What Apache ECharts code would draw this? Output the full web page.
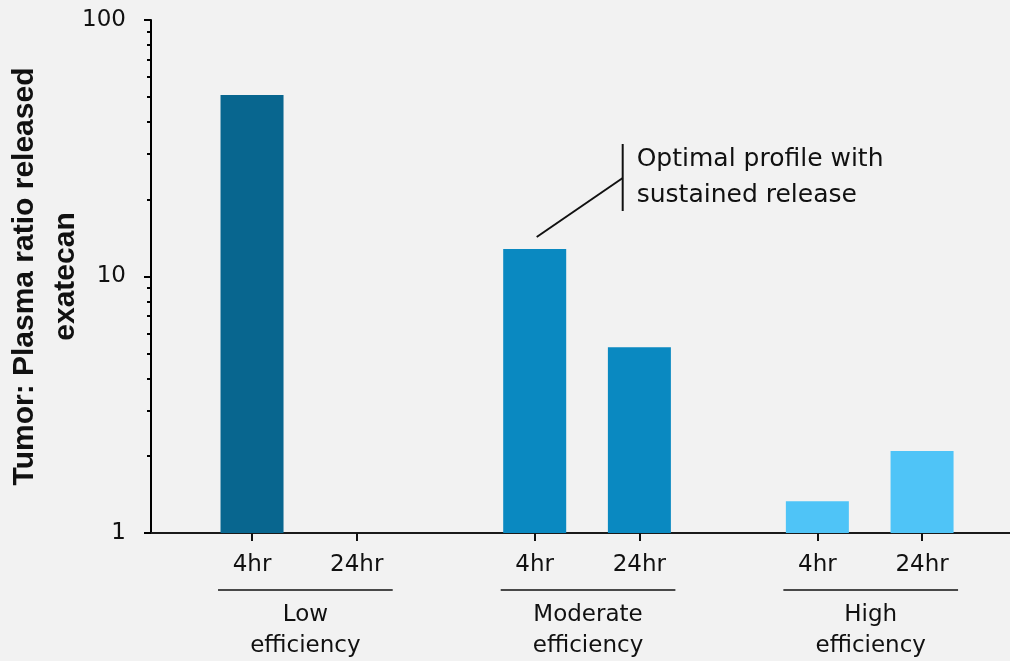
<!DOCTYPE html>
<html>
<head>
<meta charset="utf-8">
<script src="https://cdn.jsdelivr.net/npm/echarts@6/dist/echarts.min.js"></script>
<style>
  html, body { margin: 0; padding: 0; background: #F2F2F2; }
  #chart { width: 1010px; height: 661px; }
</style>
</head>
<body>
<div id="chart"></div>
<script>
// Tumor:plasma ratio of released exatecan by linker release efficiency
const groups = ['Low\nefficiency', 'Moderate\nefficiency', 'High\nefficiency'];
const timepoints = ['4hr', '24hr'];
const ratio4hr = [51, 12.8, 1.33];
const ratio24hr = [null, 5.3, 2.09];
const groupColors = ['#08668F', '#0A89C1', '#4FC4F7'];
const yMajorTicks = [1, 10, 100];
const yMinorTicks = [2, 3, 4, 5, 6, 7, 8, 9, 20, 30, 40, 50, 60, 70, 80, 90];
const yTitle = 'Tumor: Plasma ratio released\nexatecan';
const annotationText = 'Optimal profile with\nsustained release';
const annotatedGroup = 1;   // Moderate efficiency, 4hr bar

// Horizontal layout: slots inside a group are 1 unit apart, groups GROUP_STEP apart
const GROUP_STEP = 2.7;
const slotX = (g, s) => g * GROUP_STEP + s;

const FONT = '"DejaVu Sans", "Noto Sans", sans-serif';
const INK = '#111111';

const slots = [];
groups.forEach((name, g) => {
  timepoints.forEach((tp, s) => {
    const v = s === 0 ? ratio4hr[g] : ratio24hr[g];
    slots.push({ x: slotX(g, s), label: tp, value: v, color: groupColors[g] });
  });
});
const slotPositions = slots.map(d => d.x);
const labelFor = v => {
  let best = slots[0];
  slots.forEach(d => { if (Math.abs(d.x - v) < Math.abs(best.x - v)) best = d; });
  return best.label;
};

const barData = slots
  .filter(d => d.value != null)
  .map(d => ({ value: [d.x, d.value], itemStyle: { color: d.color } }));

const chart = echarts.init(document.getElementById('chart'), null, { renderer: 'canvas' });

const option = {
  backgroundColor: '#F2F2F2',
  animation: false,
  grid: {
    left: 151, right: 0, top: 20, bottom: 128,
    containLabel: false, outerBoundsMode: 'none'
  },
  xAxis: {
    type: 'value',
    min: -0.965,
    max: 7.24,
    splitLine: { show: false },
    axisLine: { show: true, onZero: false, lineStyle: { color: '#1a1a1a', width: 2 } },
    axisTick: {
      show: true, customValues: slotPositions, length: 8, inside: false,
      lineStyle: { color: '#111', width: 2 }
    },
    axisLabel: {
      show: true, customValues: slotPositions, margin: 21,
      formatter: v => labelFor(v),
      color: INK, fontFamily: FONT, fontSize: 23
    }
  },
  yAxis: [
    {
      type: 'log', logBase: 10, min: 1, max: 100,
      position: 'left',
      splitLine: { show: false },
      axisLine: { show: true, onZero: false, lineStyle: { color: '#000', width: 2 } },
      axisTick: { show: true, customValues: yMajorTicks, length: 7, lineStyle: { color: '#000', width: 2 } },
      axisLabel: {
        show: true, customValues: yMajorTicks, margin: 25,
        color: INK, fontFamily: FONT, fontSize: 23
      },
      name: yTitle,
      nameLocation: 'middle',
      nameRotate: 90,
      nameGap: 65,
      nameMoveOverlap: false,
      nameTextStyle: {
        color: INK, fontFamily: '"Liberation Sans", Arial, sans-serif',
        fontWeight: 'bold', fontSize: 30, lineHeight: 41, align: 'center'
      }
    },
    {
      type: 'log', logBase: 10, min: 1, max: 100,
      position: 'left',
      splitLine: { show: false },
      axisLine: { show: false, onZero: false },
      axisTick: { show: true, customValues: yMinorTicks, length: 4, lineStyle: { color: '#000', width: 2 } },
      axisLabel: { show: false }
    }
  ],
  series: [{
    type: 'bar',
    yAxisIndex: 0,
    barWidth: 63,
    data: barData
  }]
};

chart.setOption(option);

// Group captions under the time-point labels, plus the call-out on the annotated bar
const graphics = [];
const baseY = chart.convertToPixel({ yAxisIndex: 0 }, 1);
groups.forEach((name, g) => {
  const x0 = chart.convertToPixel({ xAxisIndex: 0 }, slotX(g, 0));
  const x1 = chart.convertToPixel({ xAxisIndex: 0 }, slotX(g, 1));
  const lineY = baseY + 57;
  graphics.push({
    type: 'line',
    shape: { x1: x0 - 34, y1: lineY, x2: x1 + 36, y2: lineY },
    style: { stroke: '#111', lineWidth: 1.3 }
  });
  graphics.push({
    type: 'text',
    x: (x0 - 34 + x1 + 36) / 2,
    y: lineY + 10,
    style: {
      text: name, fill: INK, font: '23px ' + FONT,
      align: 'center', verticalAlign: 'top', lineHeight: 31
    }
  });
});

const barTop = chart.convertToPixel({ seriesIndex: 0 },
  [slotX(annotatedGroup, 0), ratio4hr[annotatedGroup]]);
graphics.push({
  type: 'line',
  shape: { x1: barTop[0] + 2, y1: barTop[1] - 12, x2: barTop[0] + 88, y2: barTop[1] - 71 },
  style: { stroke: '#111', lineWidth: 2 }
});
graphics.push({
  type: 'line',
  shape: { x1: barTop[0] + 88, y1: barTop[1] - 105, x2: barTop[0] + 88, y2: barTop[1] - 38 },
  style: { stroke: '#111', lineWidth: 2 }
});
graphics.push({
  type: 'text',
  x: barTop[0] + 102,
  y: barTop[1] - 72,
  style: {
    text: annotationText, fill: INK, font: '25px ' + FONT,
    align: 'left', verticalAlign: 'middle', lineHeight: 36
  }
});

chart.setOption({ graphic: graphics });
</script>
</body>
</html>
